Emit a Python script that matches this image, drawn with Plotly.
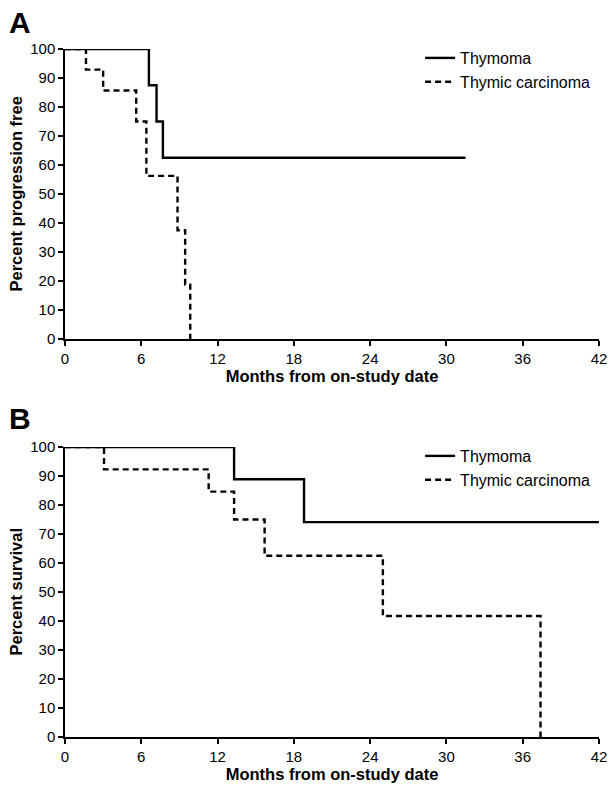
import plotly.graph_objects as go

# ---- Data (Kaplan-Meier step curves) ----
# Panel A: progression-free
a_thymoma_months = [0, 6.6, 7.2, 7.7, 31.5]
a_thymoma_pct = [100, 87.5, 75, 62.5, 62.5]
a_carcinoma_months = [0, 1.65, 3.0, 5.6, 6.4, 8.85, 9.45, 9.85]
a_carcinoma_pct = [100, 92.9, 85.7, 75, 56.25, 37.5, 18.75, 0]

# Panel B: survival
b_thymoma_months = [0, 13.3, 18.8, 42]
b_thymoma_pct = [100, 88.9, 74.1, 74.1]
b_carcinoma_months = [0, 3.07, 11.3, 13.3, 15.7, 25.0, 37.4]
b_carcinoma_pct = [100, 92.3, 84.6, 75.0, 62.5, 41.7, 0]

x_ticks = [0, 6, 12, 18, 24, 30, 36, 42]
y_ticks = [0, 10, 20, 30, 40, 50, 60, 70, 80, 90, 100]

W, H = 615, 790
FONT = "Liberation Sans, Arial, Helvetica, sans-serif"

fig = go.Figure()

def add_pair(xs, ys, name, dash, xaxis, yaxis, legend):
    fig.add_trace(go.Scatter(
        x=xs, y=ys, mode="lines", name=name, line_shape="hv",
        line=dict(color="black", width=2.4, dash=dash),
        xaxis=xaxis, yaxis=yaxis, legend=legend, cliponaxis=False,
        hoverinfo="skip"))

add_pair(a_thymoma_months, a_thymoma_pct, "Thymoma", "solid", "x", "y", "legend")
add_pair(a_carcinoma_months, a_carcinoma_pct, "Thymic carcinoma", "6px,4px", "x", "y", "legend")
add_pair(b_thymoma_months, b_thymoma_pct, "Thymoma", "solid", "x2", "y2", "legend2")
add_pair(b_carcinoma_months, b_carcinoma_pct, "Thymic carcinoma", "6px,4px", "x2", "y2", "legend2")

def px_y(top, bottom):
    return [(H - bottom) / H, (H - top) / H]

axis_common = dict(
    showgrid=False, zeroline=False, showline=True,
    linecolor="black", linewidth=1.5, ticks="outside", ticklen=5,
    tickwidth=1.5, tickcolor="black", automargin=False,
    tickfont=dict(family=FONT, size=15, color="black"),
)

xax = dict(axis_common, range=[0, 42], tickvals=x_ticks,
           title=dict(text="<b>Months from on-study date</b>",
                      font=dict(family=FONT, size=16.5, color="black"),
                      standoff=2))
yax = dict(axis_common, range=[0, 100], tickvals=y_ticks)

fig.update_layout(
    width=W, height=H,
    margin=dict(l=65, r=16, t=0, b=0),
    paper_bgcolor="white", plot_bgcolor="white",
    font=dict(family=FONT, color="black"),
    xaxis=dict(xax, domain=[0, 1], anchor="y"),
    yaxis=dict(yax, domain=px_y(49, 339), anchor="x"),
    xaxis2=dict(xax, domain=[0, 1], anchor="y2"),
    yaxis2=dict(yax, domain=px_y(447, 737), anchor="x2"),
    legend=dict(x=0.665, xanchor="left", y=(H - 41) / H, yanchor="top",
                font=dict(family=FONT, size=16, color="black"),
                bgcolor="rgba(0,0,0,0)", borderwidth=0),
    legend2=dict(x=0.665, xanchor="left", y=(H - 439) / H, yanchor="top",
                 font=dict(family=FONT, size=16, color="black"),
                 bgcolor="rgba(0,0,0,0)", borderwidth=0),
)

# Panel letters and y-axis titles
fig.add_annotation(text="<b>A</b>", xref="paper", yref="paper", x=0, y=(H - 22.5) / H,
                   xshift=-58, xanchor="left", yanchor="middle", showarrow=False,
                   font=dict(family=FONT, size=30, color="black"))
fig.add_annotation(text="<b>B</b>", xref="paper", yref="paper", x=0, y=(H - 419) / H,
                   xshift=-58, xanchor="left", yanchor="middle", showarrow=False,
                   font=dict(family=FONT, size=30, color="black"))
fig.add_annotation(text="<b>Percent progression free</b>", xref="paper", yref="paper",
                   x=0, y=(H - 194) / H, xshift=-49.5, xanchor="center", yanchor="middle",
                   textangle=-90, showarrow=False,
                   font=dict(family=FONT, size=16.5, color="black"))
fig.add_annotation(text="<b>Percent survival</b>", xref="paper", yref="paper",
                   x=0, y=(H - 592) / H, xshift=-49.5, xanchor="center", yanchor="middle",
                   textangle=-90, showarrow=False,
                   font=dict(family=FONT, size=16.5, color="black"))

fig.write_html("out.html", config={"displayModeBar": False},
               post_script="document.body.style.margin='0';document.body.style.overflow='hidden';")
